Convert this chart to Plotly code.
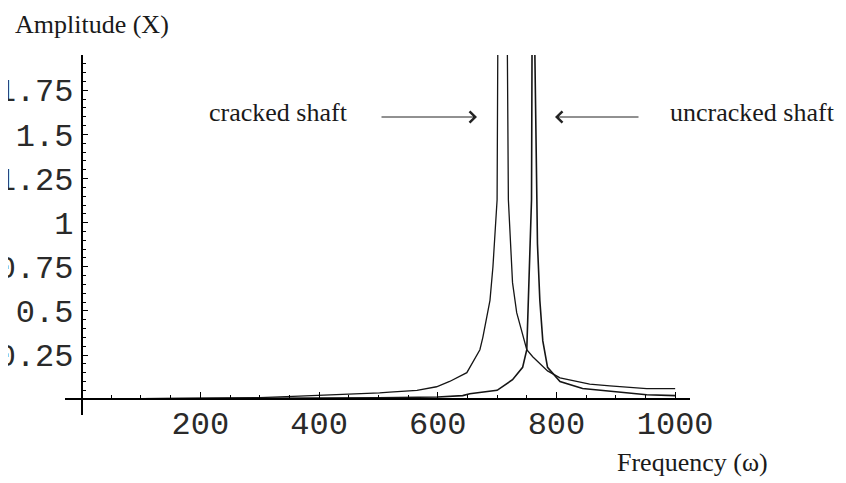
import plotly.graph_objects as go
import numpy as np

# ---- data ----
cracked_freq = [0, 100, 200, 300, 356, 446, 502, 519, 565, 598, 620, 649, 654, 671, 676, 688, 693, 697, 700, 702,
                716, 719, 723, 726, 733, 742, 750, 760, 772, 785, 806, 834, 856, 890, 952, 1000]
cracked_amp = [0.0, 0.002, 0.004, 0.008, 0.015, 0.025, 0.035, 0.04, 0.05, 0.07, 0.10, 0.15, 0.18, 0.28, 0.35, 0.56, 0.75, 0.94, 1.13, 2.6,
               2.6, 1.13, 0.83, 0.66, 0.49, 0.37, 0.28, 0.24, 0.20, 0.16, 0.12, 0.10, 0.085, 0.075, 0.06, 0.06]

uncracked_freq = [0, 200, 400, 500, 600, 642, 654, 700, 726, 743, 750, 753, 757, 758, 759.5,
                  761, 767, 768, 772, 777, 785, 806, 844, 902, 952, 1000]
uncracked_amp = [0.0, 0.002, 0.005, 0.008, 0.012, 0.02, 0.03, 0.05, 0.11, 0.18, 0.28, 0.56, 0.94, 1.13, 2.6,
                 2.6, 1.13, 0.88, 0.56, 0.33, 0.18, 0.10, 0.06, 0.04, 0.025, 0.02]

x_tick_vals = [200, 400, 600, 800, 1000]
x_tick_text = ["200", "400", "600", "800", "1000"]
y_tick_vals = [0.25, 0.5, 0.75, 1.0, 1.25, 1.5, 1.75]
y_tick_text = ["0.25", "0.5", "0.75", "1", "1.25", "1.5", "1.75"]

# ---- layout geometry (page body has an 8px margin, so compensate) ----
OFF = 8
W, H = 846 - OFF, 483 - OFF
L, R, T, B = 65 - OFF, 156, 55 - OFF, 68
PW, PH = W - L - R, H - T - B
x_range = [-28, 1025]
y_range = [-0.09, 1.95]

def px_x(p):
    # reference pixel -> paper coordinate
    return (p - OFF - L) / PW

def px_y(p):
    return (H - B - (p - OFF)) / PH

ink = "#151515"

fig = go.Figure()
fig.add_trace(go.Scatter(x=cracked_freq, y=cracked_amp, mode="lines",
                         line=dict(color=ink, width=1.3), name="cracked shaft",
                         hoverinfo="skip"))
fig.add_trace(go.Scatter(x=uncracked_freq, y=uncracked_amp, mode="lines",
                         line=dict(color=ink, width=1.6), name="uncracked shaft",
                         hoverinfo="skip"))

tickfont = dict(family="Liberation Mono, Courier New, monospace", size=32, color="#2a2a2a")

fig.update_layout(
    width=W, height=H,
    margin=dict(l=L, r=R, t=T, b=B, autoexpand=False),
    paper_bgcolor="white", plot_bgcolor="white",
    showlegend=False,
    xaxis=dict(range=x_range, anchor="free", automargin=False,
               position=(0 - y_range[0]) / (y_range[1] - y_range[0]),
               showgrid=False, zeroline=False, showline=True, linecolor="black", linewidth=1.5,
               tickmode="array", tickvals=x_tick_vals, ticktext=x_tick_text,
               ticks="inside", ticklen=6, tickwidth=1.2, tickcolor="black",
               tickfont=tickfont, ticklabelstandoff=-4,
               minor=dict(tickmode="linear", tick0=0, dtick=50, ticks="inside", ticklen=3.5,
                          tickwidth=1, tickcolor="black")),
    yaxis=dict(range=y_range, anchor="free", automargin=False,
               position=(0 - x_range[0]) / (x_range[1] - x_range[0]),
               showgrid=False, zeroline=False, showline=True, linecolor="black", linewidth=1.5,
               tickmode="array", tickvals=y_tick_vals, ticktext=y_tick_text,
               ticks="inside", ticklen=6, tickwidth=1.2, tickcolor="black",
               tickfont=tickfont, ticklabelstandoff=1,
               minor=dict(tickmode="array", tickvals=[round(v, 2) for v in np.arange(0.05, 1.95, 0.05)],
                          ticks="inside", ticklen=3.5, tickwidth=1, tickcolor="black")),
)

serif = dict(family="Liberation Serif, Times New Roman, serif", size=26, color="#1a1a1a")

fig.add_annotation(text="Amplitude (X)", xref="paper", yref="paper",
                   x=px_x(13), y=px_y(24), xanchor="left", yanchor="middle",
                   showarrow=False, font=serif)
fig.add_annotation(text="Frequency (ω)", xref="paper", yref="paper",
                   x=px_x(615), y=px_y(462), xanchor="left", yanchor="middle",
                   showarrow=False, font=serif)
fig.add_annotation(text="cracked shaft", xref="paper", yref="paper",
                   x=px_x(207), y=px_y(112), xanchor="left", yanchor="middle",
                   showarrow=False, font=serif)
fig.add_annotation(text="uncracked shaft", xref="paper", yref="paper",
                   x=px_x(668), y=px_y(112), xanchor="left", yanchor="middle",
                   showarrow=False, font=serif)

# arrows
fig.add_annotation(text="", xref="paper", yref="paper", x=px_x(477), y=px_y(117),
                   ax=-97, ay=0, axref="pixel", ayref="pixel", showarrow=True,
                   arrowhead=4, arrowsize=2.2, arrowwidth=1, arrowcolor="#222")
fig.add_annotation(text="", xref="paper", yref="paper", x=px_x(555), y=px_y(117),
                   ax=85, ay=0, axref="pixel", ayref="pixel", showarrow=True,
                   arrowhead=4, arrowsize=2.2, arrowwidth=1, arrowcolor="#222")

fig.write_html("out.html")
